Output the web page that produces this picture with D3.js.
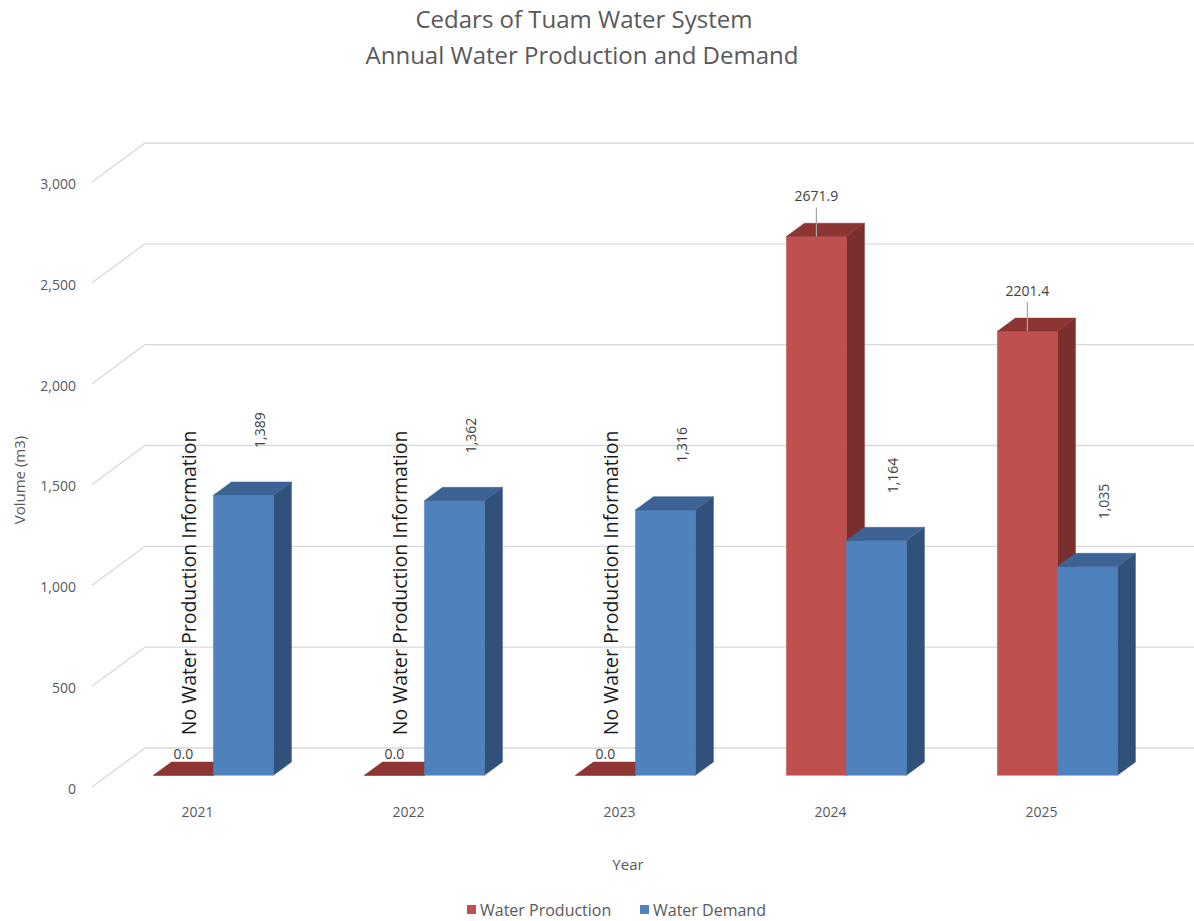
<!DOCTYPE html>
<html>
  <head>
    <meta charset="utf-8" />
    <style>
      body { margin: 0; background: #fff; }
      text { font-family: "Open Sans", sans-serif; }
    </style>
  </head>
  <body>
    <svg width="1194" height="921"></svg>
    <script src="https://d3js.org/d3.v7.min.js"></script>
    <script>
      // chart data
      var years = ["2021", "2022", "2023", "2024", "2025"];
      var production = [0, 0, 0, 2671.9, 2201.4];
      var demand = [1389, 1362, 1316, 1164, 1035];
      var productionLabels = ["0.0", "0.0", "0.0", "2671.9", "2201.4"];
      var demandLabels = ["1,389", "1,362", "1,316", "1,164", "1,035"];
      var leaderLines = [false, false, false, true, true];
      var noteYears = ["2021", "2022", "2023"];
      var noteText = "No Water Production Information";
      var yTicks = [0, 500, 1000, 1500, 2000, 2500, 3000];
      var seriesNames = ["Water Production", "Water Demand"];

      var svg = d3.select("svg"),
        width = +svg.attr("width");

      var grey = "#595959";
      var colors = {
        prod: { front: "#c0504d", top: "#8c3533", side: "#7a2f2d" },
        dem: { front: "#4f81bd", top: "#3c6394", side: "#30527a" }
      };

      // oblique 3d: depth runs from 0 (front of floor) to 1 (back wall)
      var DX = 53, DY = 39;
      var x = d3.scaleBand().domain(years).range([92, 1147]);
      var y = d3.scaleLinear().domain([0, 3000]).range([787, 182]);
      function P(xf, v, d) {
        return [xf + d * DX, y(v) - d * DY];
      }
      var d0 = 0.3, d1 = 0.64, barW = 60;

      // title
      svg.append("text").attr("x", 584).attr("y", 28).attr("text-anchor", "middle")
        .attr("font-size", "24px").attr("fill", grey).text("Cedars of Tuam Water System");
      svg.append("text").attr("x", 582).attr("y", 64).attr("text-anchor", "middle")
        .attr("font-size", "24px").attr("fill", grey).text("Annual Water Production and Demand");

      // gridlines: back wall + left side wall
      var grid = svg.append("g").attr("stroke", "#d9d9d9").attr("stroke-width", 1.3).attr("fill", "none");
      yTicks.forEach(function(t) {
        var a = P(x.range()[0], t, 0), b = P(x.range()[0], t, 1), c = P(x.range()[1], t, 1);
        grid.append("polyline").attr("points", [a, b, c].join(" "));
      });

      // y axis labels
      svg.append("g").selectAll("text").data(yTicks).enter().append("text")
        .attr("x", 76).attr("y", function(d) { return y(d) + 2; })
        .attr("dy", "0.35em").attr("text-anchor", "end")
        .attr("font-size", "14px").attr("fill", grey)
        .text(function(d) { return d3.format(",")(d); });

      svg.append("text").attr("transform", "translate(20,480) rotate(-90)")
        .attr("dy", "0.35em").attr("text-anchor", "middle").attr("font-size", "15px").attr("fill", grey)
        .text("Volume (m3)");

      // x axis labels
      svg.append("g").selectAll("text").data(years).enter().append("text")
        .attr("x", function(d) { return x(d) + x.bandwidth() / 2; })
        .attr("y", 812).attr("dy", "0.35em").attr("text-anchor", "middle")
        .attr("font-size", "14px").attr("fill", grey)
        .text(function(d) { return d; });

      svg.append("text").attr("x", 628).attr("y", 865).attr("dy", "0.35em")
        .attr("text-anchor", "middle").attr("font-size", "15px").attr("fill", grey).text("Year");

      // bars
      function bar(g, x0, v, c) {
        var x1 = x0 + barW;
        var poly = function(pts, fill) {
          g.append("polygon").attr("points", pts.join(" ")).attr("fill", fill)
            .attr("stroke", fill).attr("stroke-width", 0.5);
        };
        poly([P(x1, 0, d0), P(x1, 0, d1), P(x1, v, d1), P(x1, v, d0)], c.side);
        poly([P(x0, 0, d0), P(x1, 0, d0), P(x1, v, d0), P(x0, v, d0)], c.front);
        poly([P(x0, v, d0), P(x1, v, d0), P(x1, v, d1), P(x0, v, d1)], c.top);
      }

      var bars = svg.append("g");
      years.forEach(function(yr, i) {
        var mid = x(yr) + x.bandwidth() / 2;
        bar(bars, mid - barW, production[i], colors.prod);
        bar(bars, mid, demand[i], colors.dem);
      });

      // data labels
      var labels = svg.append("g");
      years.forEach(function(yr, i) {
        var mid = x(yr) + x.bandwidth() / 2;
        var pTop = P(mid - barW / 2, production[i], d0);
        var lift = leaderLines[i] ? 40 : 21;
        labels.append("text").attr("x", pTop[0]).attr("y", pTop[1] - lift)
          .attr("dy", "0.35em").attr("text-anchor", "middle")
          .attr("font-size", "14px").attr("fill", "#404040").text(productionLabels[i]);
        if (leaderLines[i]) {
          labels.append("line").attr("x1", pTop[0]).attr("x2", pTop[0])
            .attr("y1", pTop[1] - lift + 11).attr("y2", pTop[1])
            .attr("stroke", "#a6a6a6").attr("stroke-width", 1.2);
        }
        var dTop = P(mid + barW / 2, demand[i], d1);
        labels.append("text")
          .attr("transform", "translate(" + (dTop[0] - 1) + "," + (dTop[1] - 34) + ") rotate(-90)")
          .attr("dy", "0.35em").attr("font-size", "14px").attr("fill", "#404040")
          .text(demandLabels[i]);
      });

      // notes for missing production
      svg.append("g").selectAll("text").data(noteYears).enter().append("text")
        .attr("transform", function(d) {
          var p = P(x(d) + x.bandwidth() / 2 - barW / 2, 0, d0);
          return "translate(" + (p[0] + 6) + "," + (p[1] - 40) + ") rotate(-90)";
        })
        .attr("dy", "0.35em").attr("font-size", "19.5px").attr("fill", "#1a1a1a")
        .text(noteText);

      // legend
      var legend = svg.append("g");
      var lx = [467, 640];
      seriesNames.forEach(function(n, i) {
        legend.append("rect").attr("x", lx[i]).attr("y", 905).attr("width", 9).attr("height", 9)
          .attr("fill", i === 0 ? colors.prod.front : colors.dem.front);
        legend.append("text").attr("x", lx[i] + 13).attr("y", 910).attr("dy", "0.35em")
          .attr("font-size", "16px").attr("fill", grey).text(n);
      });
    </script>
  </body>
</html>
